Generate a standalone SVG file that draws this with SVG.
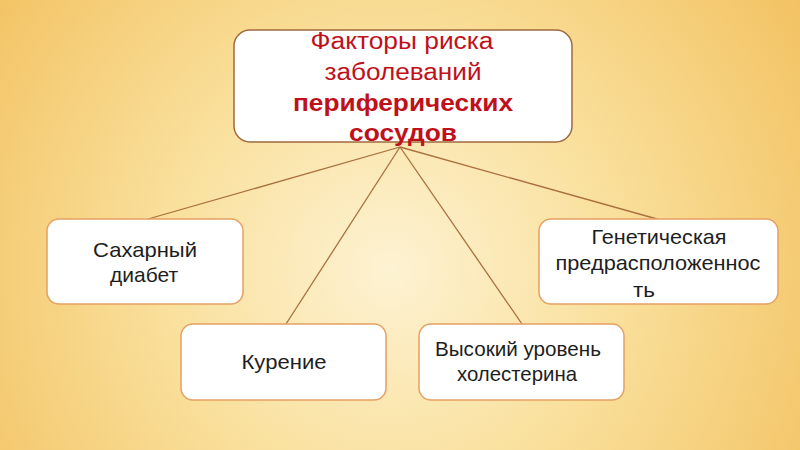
<svg xmlns="http://www.w3.org/2000/svg" width="800" height="450" viewBox="0 0 800 450">
<defs>
<radialGradient id="bg" cx="390" cy="270" r="520" gradientUnits="userSpaceOnUse">
<stop offset="0" stop-color="#fdf2d2"/>
<stop offset="0.45" stop-color="#f9df9a"/>
<stop offset="1" stop-color="#f2bf5c"/>
</radialGradient>
<style>
.box{fill:#ffffff;stroke:#e6a062;stroke-width:1.5}
.main{fill:#ffffff;stroke:#a06a3e;stroke-width:1.5}
.t{font-family:"Liberation Sans",Arial,sans-serif;font-size:21px;fill:#1e1e1e;text-anchor:middle}
.h{font-family:"Liberation Sans",Arial,sans-serif;font-size:23px;fill:#c0111b;text-anchor:middle}
.hb{font-weight:bold}
.c{stroke:#a8703e;stroke-width:1.3;fill:none}
</style>
</defs>
<rect width="800" height="450" fill="url(#bg)"/>
<g id="connectors">
<line class="c" x1="400" y1="147" x2="148" y2="219"/>
<line class="c" x1="400" y1="147" x2="286" y2="324"/>
<line class="c" x1="400" y1="147" x2="522" y2="324"/>
<line class="c" x1="400" y1="147" x2="657" y2="219"/>
</g>
<g id="main">
<rect class="main" x="234" y="30" width="338" height="112" rx="16"/>
<text class="h" x="402" y="49" textLength="183" lengthAdjust="spacingAndGlyphs">Факторы риска</text>
<text class="h" x="403" y="80" textLength="157" lengthAdjust="spacingAndGlyphs">заболеваний</text>
<text class="h hb" x="403" y="111" textLength="220" lengthAdjust="spacingAndGlyphs">периферических</text>
<text class="h hb" x="403" y="141" textLength="108" lengthAdjust="spacingAndGlyphs">сосудов</text>
</g>
<g id="diabetes">
<rect class="box" x="47" y="219" width="196" height="85" rx="12"/>
<text class="t" x="145" y="257" textLength="104" lengthAdjust="spacingAndGlyphs">Сахарный</text>
<text class="t" x="144" y="282" textLength="68" lengthAdjust="spacingAndGlyphs">диабет</text>
</g>
<g id="genetics">
<rect class="box" x="539" y="219" width="239" height="85" rx="12"/>
<text class="t" x="659" y="244" textLength="135" lengthAdjust="spacingAndGlyphs">Генетическая</text>
<text class="t" x="658" y="270" textLength="205" lengthAdjust="spacingAndGlyphs">предрасположеннос</text>
<text class="t" x="644" y="297" textLength="22" lengthAdjust="spacingAndGlyphs">ть</text>
</g>
<g id="smoking">
<rect class="box" x="181" y="324" width="205" height="76" rx="12"/>
<text class="t" x="284" y="369" textLength="85" lengthAdjust="spacingAndGlyphs">Курение</text>
</g>
<g id="cholesterol">
<rect class="box" x="419" y="324" width="205" height="76" rx="12"/>
<text class="t" x="518" y="356" textLength="166" lengthAdjust="spacingAndGlyphs">Высокий уровень</text>
<text class="t" x="517" y="381" textLength="120" lengthAdjust="spacingAndGlyphs">холестерина</text>
</g>
</svg>
